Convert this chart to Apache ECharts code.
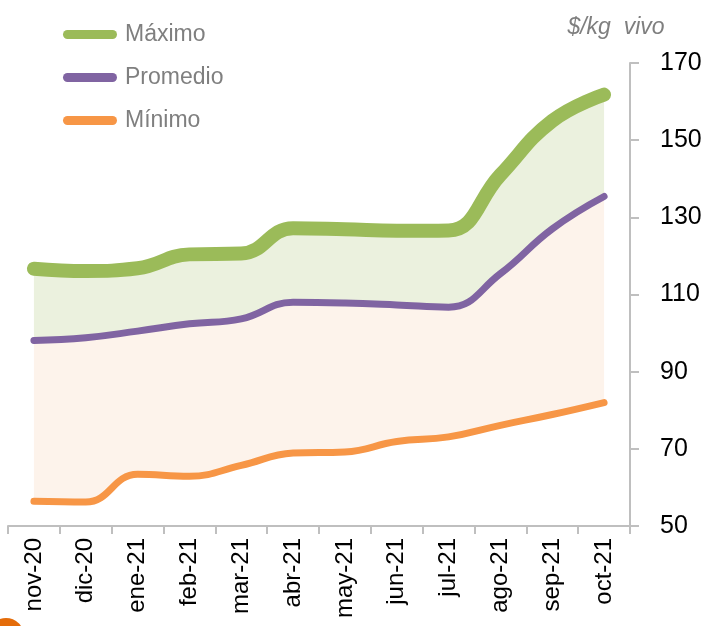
<!DOCTYPE html>
<html>
<head>
<meta charset="utf-8">
<script src="https://cdn.jsdelivr.net/npm/echarts@6/dist/echarts.min.js"></script>
<style>
html, body { margin: 0; padding: 0; background: #fff; }
#precios { width: 710px; height: 626px; }
</style>
</head>
<body>
<div id="precios"></div>
<script>
const meses = ['nov-20', 'dic-20', 'ene-21', 'feb-21', 'mar-21', 'abr-21', 'may-21', 'jun-21', 'jul-21', 'ago-21', 'sep-21', 'oct-21'];
const maximo = [116.7, 116.1, 116.8, 120.4, 120.6, 127.2, 126.9, 126.5, 126.6, 141.0, 155.0, 161.8];
const promedio = [98.1, 98.8, 100.5, 102.4, 103.7, 108.0, 107.8, 107.3, 106.7, 115.4, 127.0, 135.4];
const minimo = [56.4, 56.2, 63.4, 62.9, 65.7, 68.9, 69.2, 71.9, 73.1, 76.1, 78.9, 82.0];
const ejeY = { min: 50, max: 170, interval: 20 };

const fuente = 'Liberation Sans';
const suave = 0.45;

// bandas de relleno (apiladas): min -> promedio -> max
const bandaBaja = promedio.map((v, i) => +(v - minimo[i]).toFixed(2));
const bandaAlta = maximo.map((v, i) => +(v - promedio[i]).toFixed(2));

const icono = 'path://M5,0 L55,0 A5,5 0 0 1 55,10 L5,10 A5,5 0 0 1 5,0 Z';

let myChart = echarts.init(document.getElementById('precios'));
myChart.setOption({
    animation: false,
    backgroundColor: '#fff',
    textStyle: { fontFamily: fuente },
    legend: {
        orient: 'vertical',
        left: 58,
        top: 18,
        itemWidth: 60,
        itemHeight: 9,
        itemGap: 20,
        icon: icono,
        data: ['Máximo', 'Promedio', 'Mínimo'],
        textStyle: { fontFamily: fuente, fontSize: 23, color: '#7f7f7f' }
    },
    grid: { left: 8, right: 80, top: 63, bottom: 100 },
    xAxis: {
        type: 'category',
        data: meses,
        boundaryGap: true,
        axisLine: { lineStyle: { color: '#bfbfbf', width: 2 } },
        axisTick: { show: true, length: 8, lineStyle: { color: '#bfbfbf', width: 2 } },
        axisLabel: { rotate: 90, margin: 12, fontSize: 24, color: '#000', fontFamily: fuente },
        splitLine: { show: false }
    },
    yAxis: {
        type: 'value',
        position: 'right',
        min: ejeY.min,
        max: ejeY.max,
        interval: ejeY.interval,
        name: '$/kg  vivo',
        nameLocation: 'end',
        nameGap: 24,
        nameTextStyle: { fontFamily: fuente, fontStyle: 'italic', fontSize: 23, color: '#7f7f7f', align: 'center', padding: [0, 28, 0, 0] },
        axisLine: { show: true, lineStyle: { color: '#bfbfbf', width: 2 } },
        axisTick: { show: true, inside: false, length: 9, lineStyle: { color: '#bfbfbf', width: 2 } },
        axisLabel: { margin: 30, fontSize: 25, color: '#000', fontFamily: fuente },
        splitLine: { show: false }
    },
    graphic: [
        { type: 'circle', shape: { cx: 6, cy: 636, r: 18 }, style: { fill: '#e46c0a' } }
    ],
    series: [
        {
            name: 'base', type: 'line', stack: 'banda', data: minimo, smooth: suave,
            symbol: 'none', silent: true, lineStyle: { width: 0 }, z: 1
        },
        {
            name: 'bajo', type: 'line', stack: 'banda', data: bandaBaja, smooth: suave,
            symbol: 'none', silent: true, lineStyle: { width: 0 },
            areaStyle: { color: '#fdf3eb', opacity: 1 }, z: 1
        },
        {
            name: 'alto', type: 'line', stack: 'banda', data: bandaAlta, smooth: suave,
            symbol: 'none', silent: true, lineStyle: { width: 0 },
            areaStyle: { color: '#ebf1de', opacity: 1 }, z: 1
        },
        {
            name: 'Mínimo', type: 'line', data: minimo, smooth: suave, symbol: 'none',
            itemStyle: { color: '#f79646' },
            lineStyle: { color: '#f79646', width: 7, cap: 'round', join: 'round' }, z: 3
        },
        {
            name: 'Promedio', type: 'line', data: promedio, smooth: suave, symbol: 'none',
            itemStyle: { color: '#8064a2' },
            lineStyle: { color: '#8064a2', width: 7, cap: 'round', join: 'round' }, z: 3
        },
        {
            name: 'Máximo', type: 'line', data: maximo, smooth: suave, symbol: 'none',
            itemStyle: { color: '#9bbb59' },
            lineStyle: { color: '#9bbb59', width: 14, cap: 'round', join: 'round' }, z: 3
        }
    ]
});
window.addEventListener('resize', function () {
    myChart.resize();
});
</script>
</body>
</html>
